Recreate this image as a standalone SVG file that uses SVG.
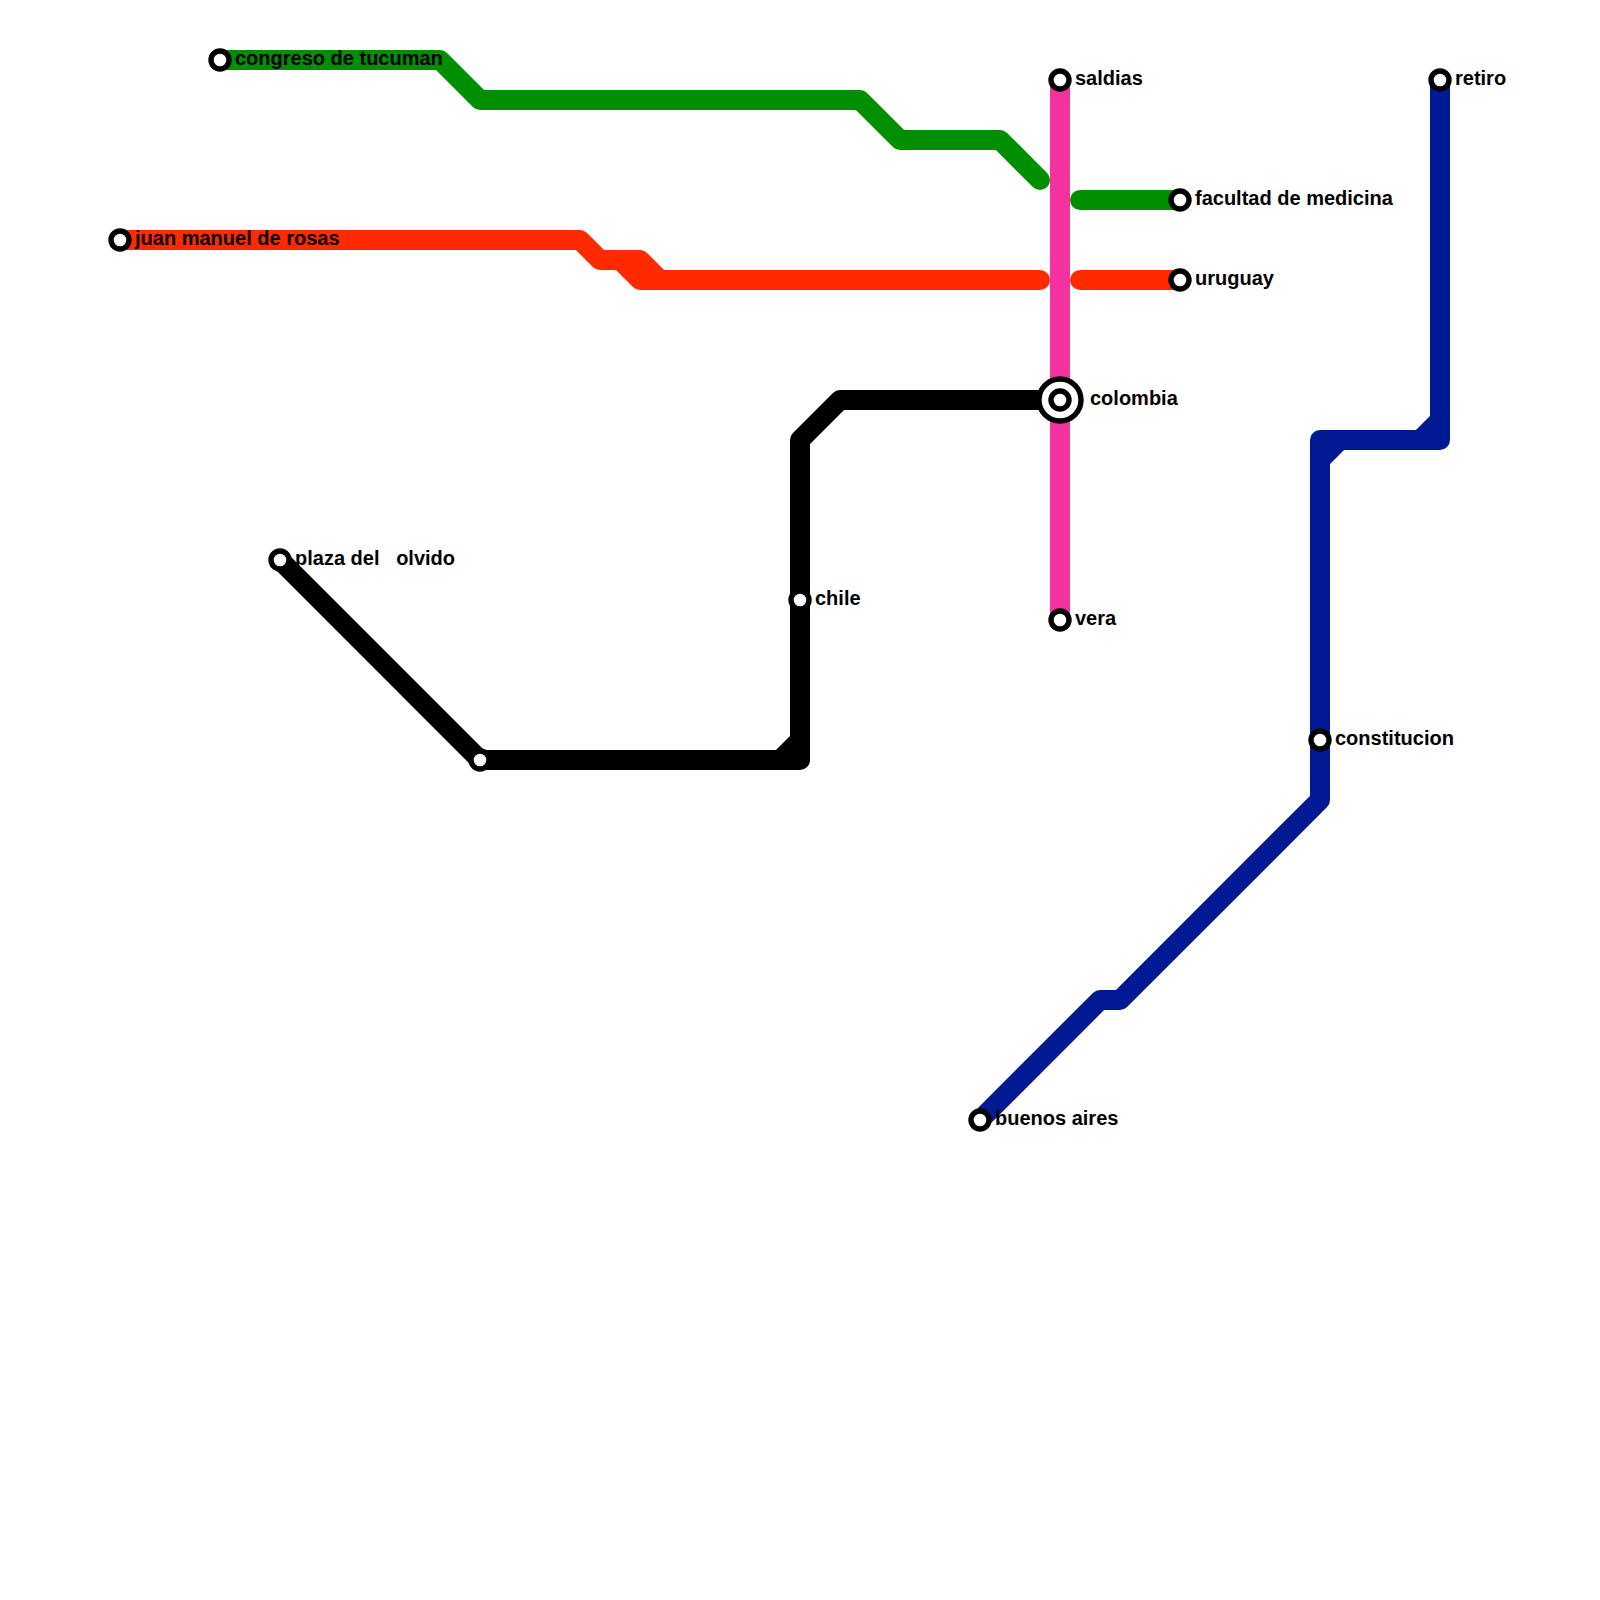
<svg xmlns="http://www.w3.org/2000/svg" width="1600" height="1600" viewBox="0 0 1600 1600">
<style>
.l{fill:none;stroke-width:20;stroke-linecap:round;stroke-linejoin:round}
.g{stroke:#008f00}.r{stroke:#ff2a00}.k{stroke:#000}.b{stroke:#001a94}.p{stroke:#f4329f}
.s{fill:#fff;stroke:#000;stroke-width:5.4}
.t{font-family:"Liberation Sans",Arial,sans-serif;font-weight:bold;font-size:20px;fill:#000;white-space:pre}
</style>
<rect width="1600" height="1600" fill="#fff"/>
<g id="connectors">
<path class="l p" d="M1060 80V620"/>
<path class="l g" d="M220 60H440L480 100H860L900 140H1000L1040 180"/>
<path class="l g" d="M1080 200H1180"/>
<path class="l r" d="M120 240H580L600 260H640L660 280H1040"/>
<path class="l r" d="M620 260L640 280H660"/>
<path class="l r" d="M1080 280H1180"/>
<path class="l k" d="M280 560L480 760H800V440L840 400H1060"/>
<path class="l k" d="M780 760L800 740"/>
<path class="l b" d="M1440 80V440H1320V800L1120 1000H1100L980 1120"/>
<path class="l b" d="M1420 440L1440 420"/>
<path class="l b" d="M1320 460L1340 440"/>
</g>
<g id="congreso-de-tucuman"><circle class="s" cx="220" cy="60" r="9"/><text class="t" x="235" y="65">congreso de tucuman</text></g>
<g id="juan-manuel-de-rosas"><circle class="s" cx="120" cy="240" r="9"/><text class="t" x="135" y="245">juan manuel de rosas</text></g>
<g id="plaza-del-olvido"><circle class="s" cx="280" cy="560" r="9"/><text class="t" x="295" y="565" xml:space="preserve">plaza del   olvido</text></g>
<g id="junction"><circle class="s" cx="480" cy="760" r="9"/></g>
<g id="chile"><circle class="s" cx="800" cy="600" r="9"/><text class="t" x="815" y="605">chile</text></g>
<g id="saldias"><circle class="s" cx="1060" cy="80" r="9"/><text class="t" x="1075" y="85">saldias</text></g>
<g id="facultad-de-medicina"><circle class="s" cx="1180" cy="200" r="9"/><text class="t" x="1195" y="205">facultad de medicina</text></g>
<g id="uruguay"><circle class="s" cx="1180" cy="280" r="9"/><text class="t" x="1195" y="285">uruguay</text></g>
<g id="colombia"><circle class="s" cx="1060" cy="400" r="21"/><circle class="s" cx="1060" cy="400" r="9"/><text class="t" x="1090" y="405">colombia</text></g>
<g id="vera"><circle class="s" cx="1060" cy="620" r="9"/><text class="t" x="1075" y="625">vera</text></g>
<g id="retiro"><circle class="s" cx="1440" cy="80" r="9"/><text class="t" x="1455" y="85">retiro</text></g>
<g id="constitucion"><circle class="s" cx="1320" cy="740" r="9"/><text class="t" x="1335" y="745">constitucion</text></g>
<g id="buenos-aires"><circle class="s" cx="980" cy="1120" r="9"/><text class="t" x="995" y="1125">buenos aires</text></g>
</svg>
